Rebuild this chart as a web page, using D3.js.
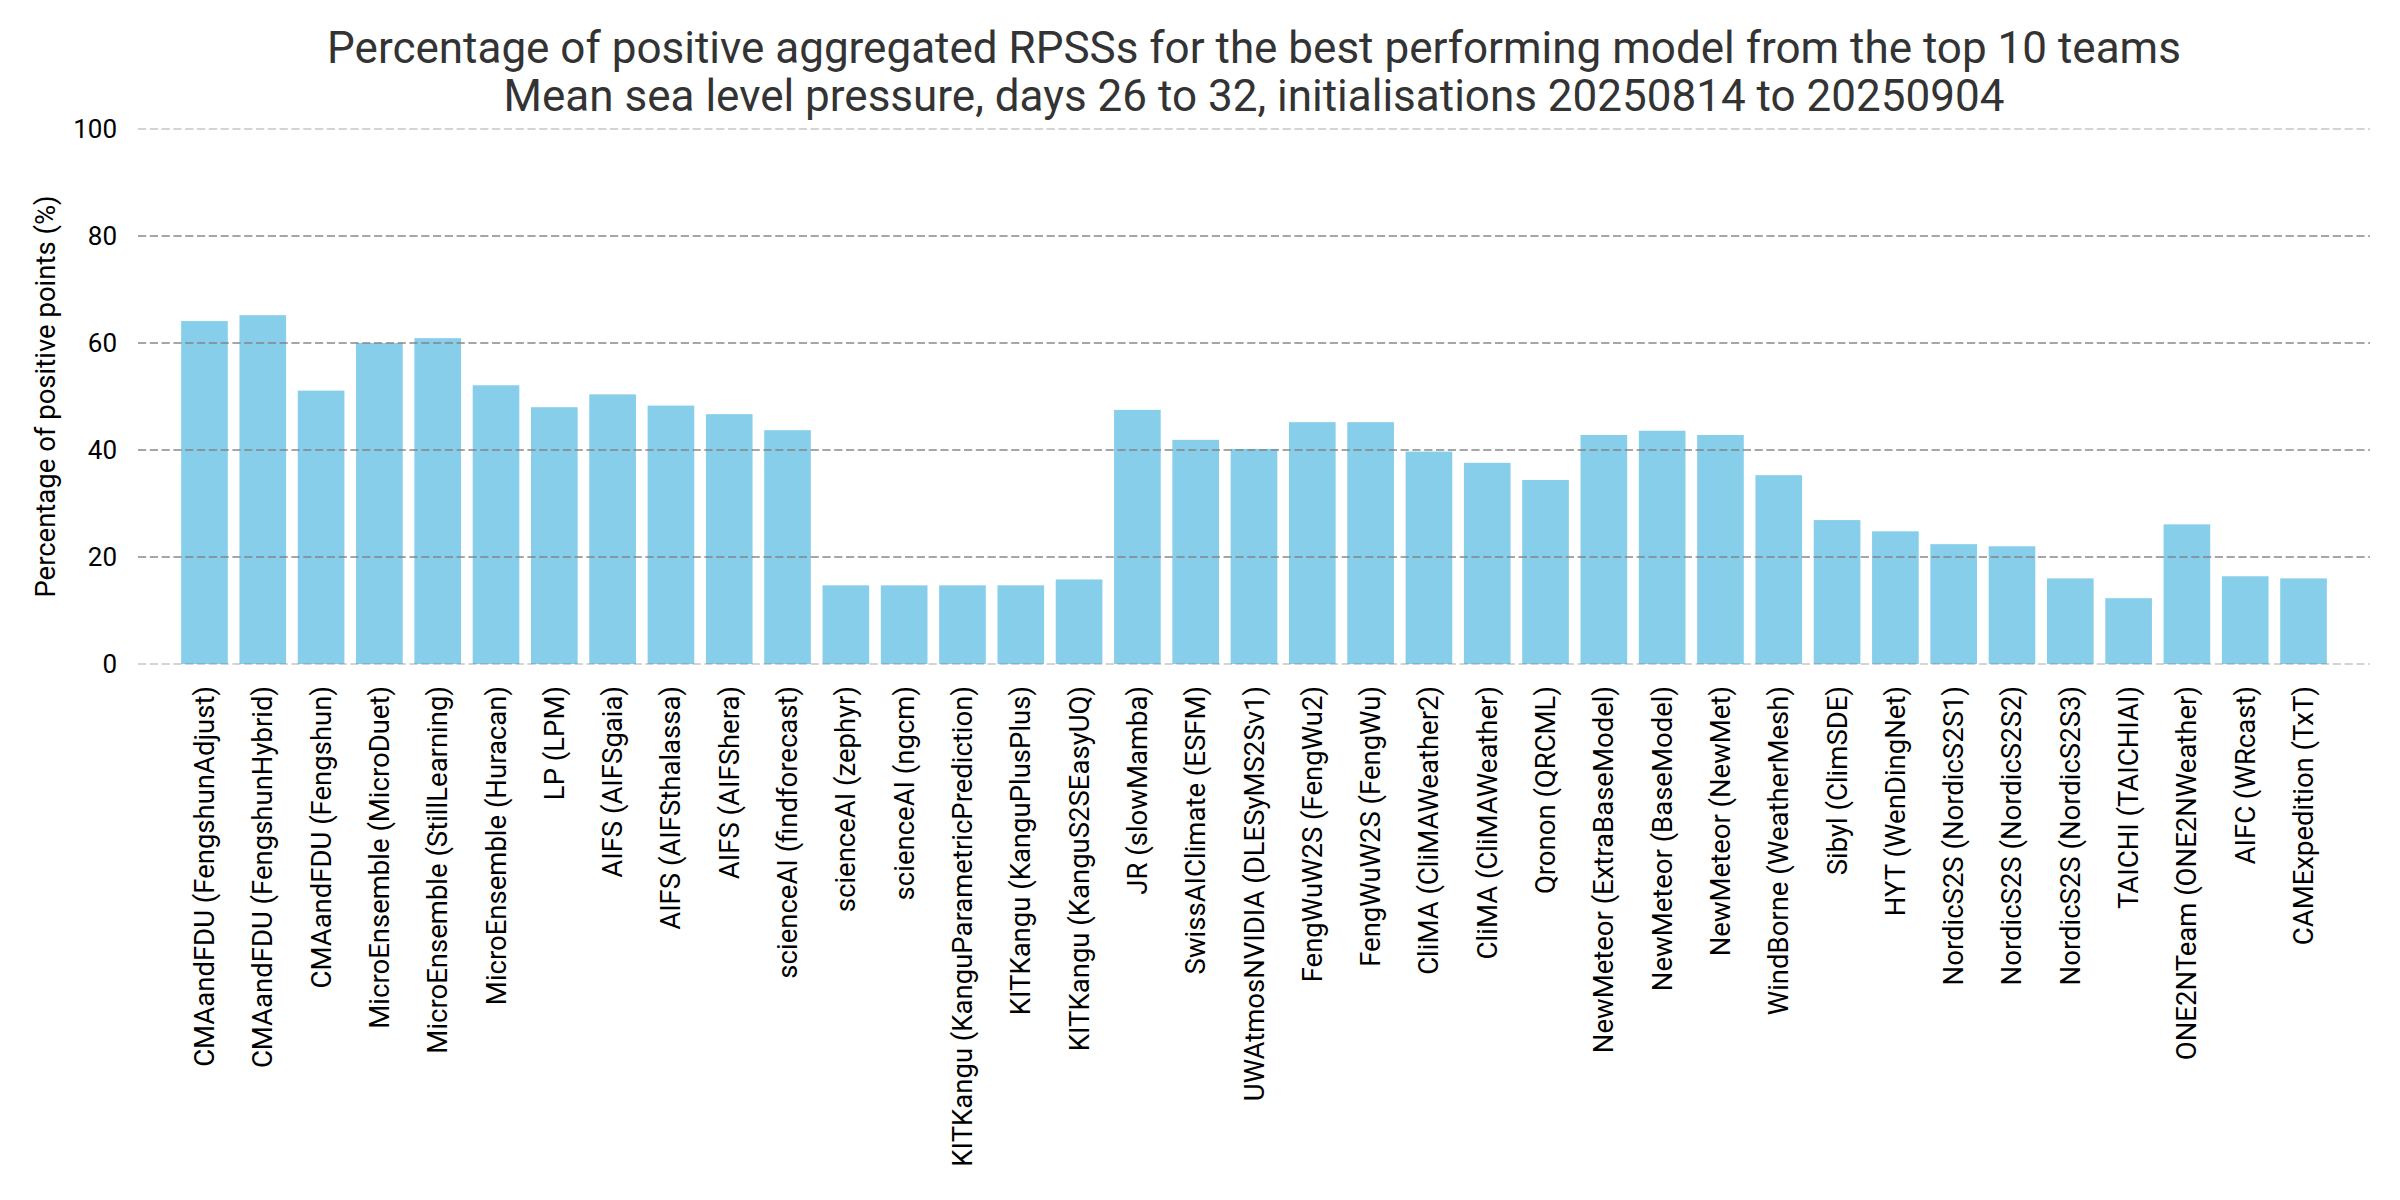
<!DOCTYPE html>
<html>
<head>
<meta charset="utf-8">
<script src="https://cdn.jsdelivr.net/npm/d3@7"></script>
<style>
  body { margin: 0; background: #fff; }
  svg { display: block; font-family: Roboto, "Noto Sans", sans-serif; }
</style>
</head>
<body>
<svg id="chart"></svg>
<script>
const WIDTH = 2400;
const HEIGHT = 1200;

const TITLE_LINES = [
  "Percentage of positive aggregated RPSSs for the best performing model from the top 10 teams",
  "Mean sea level pressure, days 26 to 32, initialisations 20250814 to 20250904"
];
const Y_LABEL = "Percentage of positive points (%)";

const models = [
  "CMAandFDU (FengshunAdjust)", "CMAandFDU (FengshunHybrid)", "CMAandFDU (Fengshun)",
  "MicroEnsemble (MicroDuet)", "MicroEnsemble (StillLearning)", "MicroEnsemble (Huracan)",
  "LP (LPM)", "AIFS (AIFSgaia)", "AIFS (AIFSthalassa)", "AIFS (AIFShera)",
  "scienceAI (findforecast)", "scienceAI (zephyr)", "scienceAI (ngcm)",
  "KITKangu (KanguParametricPrediction)", "KITKangu (KanguPlusPlus)", "KITKangu (KanguS2SEasyUQ)",
  "JR (slowMamba)", "SwissAIClimate (ESFM)", "UWAtmosNVIDIA (DLESyMS2Sv1)",
  "FengWuW2S (FengWu2)", "FengWuW2S (FengWu)", "CliMA (CliMAWeather2)", "CliMA (CliMAWeather)",
  "Qronon (QRCML)", "NewMeteor (ExtraBaseModel)", "NewMeteor (BaseModel)", "NewMeteor (NewMet)",
  "WindBorne (WeatherMesh)", "Sibyl (ClimSDE)", "HYT (WenDingNet)",
  "NordicS2S (NordicS2S1)", "NordicS2S (NordicS2S2)", "NordicS2S (NordicS2S3)",
  "TAICHI (TAICHIAI)", "ONE2NTeam (ONE2NWeather)", "AIFC (WRcast)", "CAMExpedition (TxT)"
];

const positivePct = [
  64.1, 65.2, 51.1,
  60.0, 60.9, 52.1,
  48.0, 50.4, 48.3, 46.7,
  43.7, 14.7, 14.7,
  14.7, 14.7, 15.8,
  47.5, 41.9, 40.2,
  45.2, 45.2, 39.7, 37.6,
  34.4, 42.8, 43.6, 42.8,
  35.3, 26.9, 24.8,
  22.4, 22.0, 16.0,
  12.3, 26.1, 16.4, 16.0
];

const yTicks = [0, 20, 40, 60, 80, 100];

const BAR_COLOR = "#87ceeb";
const GRID_COLOR = "#808080";
const GRID_OPACITY = 0.7;

const plot = { left: 138, right: 2370, top: 129, bottom: 664 };

const svg = d3.select("#chart")
  .attr("width", WIDTH)
  .attr("height", HEIGHT)
  .attr("viewBox", [0, 0, WIDTH, HEIGHT]);

svg.append("rect")
  .attr("width", WIDTH)
  .attr("height", HEIGHT)
  .attr("fill", "#fff");

const x = d3.scaleBand()
  .domain(models)
  .range([plot.left, plot.right])
  .paddingInner(0.2)
  .paddingOuter(0.74);

const y = d3.scaleLinear()
  .domain([0, 100])
  .range([plot.bottom, plot.top]);

// bars
svg.append("g")
  .selectAll("rect")
  .data(models)
  .join("rect")
  .attr("x", d => x(d))
  .attr("width", x.bandwidth())
  .attr("y", (d, i) => y(positivePct[i]))
  .attr("height", (d, i) => y(0) - y(positivePct[i]))
  .attr("fill", BAR_COLOR);

// dashed grid on top of the bars, 0 and 100 are half clipped by the axes box
svg.append("g")
  .selectAll("line")
  .data(yTicks)
  .join("line")
  .attr("x1", plot.left)
  .attr("x2", plot.right)
  .attr("y1", d => y(d))
  .attr("y2", d => y(d))
  .attr("stroke", GRID_COLOR)
  .attr("stroke-opacity", d => (d === 0 || d === 100) ? 0.45 : GRID_OPACITY)
  .attr("stroke-width", d => (d === 0 || d === 100) ? 1.3 : 2.2)
  .attr("stroke-dasharray", "8.2,3.6");

// y axis (labels only)
const yAxis = svg.append("g")
  .attr("transform", `translate(${plot.left},0)`)
  .call(d3.axisLeft(y).tickValues(yTicks).tickSize(0).tickPadding(21));
yAxis.select(".domain").remove();
yAxis.selectAll("text")
  .attr("fill", "#000")
  .style("font-size", "26px")
  .style("font-family", "Roboto");

// x axis (rotated labels)
const xAxis = svg.append("g")
  .attr("transform", `translate(0,${plot.bottom})`)
  .call(d3.axisBottom(x).tickSize(0).tickPadding(0));
xAxis.select(".domain").remove();
xAxis.selectAll("text")
  .attr("fill", "#000")
  .style("font-size", "27.5px")
  .style("font-family", "Roboto")
  .attr("text-anchor", "end")
  .attr("dy", null)
  .attr("dominant-baseline", "central")
  .attr("transform", "translate(0,22) rotate(-90)");

// y label
svg.append("text")
  .attr("transform", `translate(45,${(plot.top + plot.bottom) / 2}) rotate(-90)`)
  .attr("text-anchor", "middle")
  .attr("dominant-baseline", "central")
  .attr("fill", "#000")
  .style("font-size", "27.5px")
  .text(Y_LABEL);

// title
svg.append("g")
  .selectAll("text")
  .data(TITLE_LINES)
  .join("text")
  .attr("x", (plot.left + plot.right) / 2)
  .attr("y", (d, i) => 63 + i * 48)
  .attr("text-anchor", "middle")
  .attr("fill", "#333")
  .style("font-size", "44px")
  .text(d => d);
</script>
</body>
</html>
